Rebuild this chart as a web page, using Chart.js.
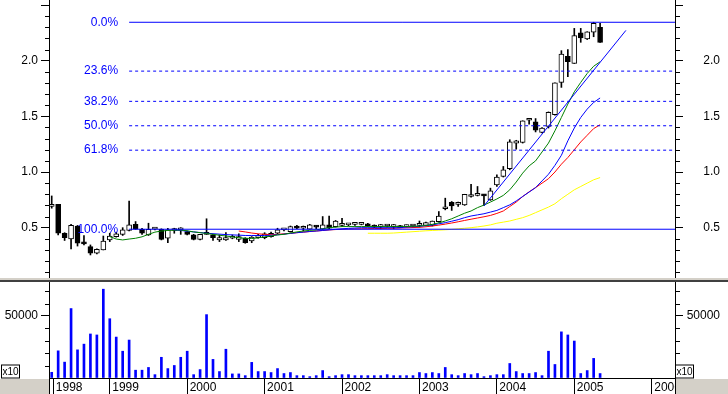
<!DOCTYPE html>
<html>
<head>
<meta charset="utf-8">
<title>Monthly price chart</title>
<script src="https://cdn.jsdelivr.net/npm/chart.js@4.4.1/dist/chart.umd.min.js"></script>
<style>
  html, body { margin: 0; padding: 0; background: #fff; }
  #wrap { position: relative; width: 728px; height: 394px; overflow: hidden; background: #fff; }
  canvas { position: absolute; left: 0; }
  #price { top: 0; }
  #vol { top: 282px; }
  .band { position: absolute; left: 0; width: 728px; }
</style>
</head>
<body>
<div id="wrap">
  <canvas id="price" width="728" height="278"></canvas>
  <div class="band" style="top:278px;height:2px;background:#d4d0c8"></div>
  <div class="band" style="top:280px;height:2px;background:#404040"></div>
  <canvas id="vol" width="728" height="112"></canvas>
</div>
<script>
// monthly bars, Apr 1998 .. May 2005
const months = [
  '1998-04','1998-05','1998-06','1998-07','1998-08','1998-09','1998-10','1998-11','1998-12',
  '1999-01','1999-02','1999-03','1999-04','1999-05','1999-06','1999-07','1999-08','1999-09','1999-10','1999-11','1999-12',
  '2000-01','2000-02','2000-03','2000-04','2000-05','2000-06','2000-07','2000-08','2000-09','2000-10','2000-11','2000-12',
  '2001-01','2001-02','2001-03','2001-04','2001-05','2001-06','2001-07','2001-08','2001-09','2001-10','2001-11','2001-12',
  '2002-01','2002-02','2002-03','2002-04','2002-05','2002-06','2002-07','2002-08','2002-09','2002-10','2002-11','2002-12',
  '2003-01','2003-02','2003-03','2003-04','2003-05','2003-06','2003-07','2003-08','2003-09','2003-10','2003-11','2003-12',
  '2004-01','2004-02','2004-03','2004-04','2004-05','2004-06','2004-07','2004-08','2004-09','2004-10','2004-11','2004-12',
  '2005-01','2005-02','2005-03','2005-04','2005-05'
];

const open = [0.69,0.71,0.45,0.40,0.515,0.36,0.33,0.27,0.30,0.39,
  0.42,0.44,0.475,0.53,0.485,0.435,0.487,0.485,0.405,0.475,
  0.48,0.465,0.435,0.395,0.44,0.435,0.39,0.39,0.405,0.395,
  0.405,0.38,0.41,0.41,0.42,0.45,0.48,0.465,0.515,0.495,
  0.487,0.51,0.487,0.525,0.51,0.52,0.525,0.53,0.53,0.535,
  0.52,0.51,0.515,0.51,0.515,0.51,0.515,0.52,0.52,0.52,
  0.555,0.67,0.727,0.71,0.705,0.78,0.79,0.80,0.75,0.885,
  0.96,1.03,1.26,1.265,1.465,1.45,1.355,1.41,1.515,1.805,
  2.04,1.975,2.25,2.195,2.255,2.30];
const high = [0.785,0.71,0.455,0.53,0.52,0.43,0.345,0.31,0.425,0.45,
  0.46,0.50,0.74,0.555,0.495,0.54,0.50,0.49,0.495,0.495,
  0.50,0.47,0.44,0.44,0.58,0.44,0.435,0.455,0.435,0.445,
  0.41,0.42,0.44,0.455,0.46,0.495,0.49,0.515,0.52,0.515,
  0.53,0.52,0.60,0.605,0.565,0.585,0.535,0.535,0.54,0.54,
  0.525,0.53,0.525,0.53,0.52,0.525,0.525,0.56,0.55,0.56,
  0.645,0.765,0.735,0.73,0.80,0.89,0.87,0.80,0.855,0.975,
  1.05,1.29,1.285,1.46,1.475,1.48,1.40,1.54,1.80,2.09,
  2.10,2.29,2.29,2.26,2.345,2.335];
const low = [0.675,0.435,0.385,0.31,0.335,0.345,0.255,0.265,0.30,0.375,
  0.415,0.43,0.47,0.485,0.44,0.43,0.48,0.39,0.365,0.45,
  0.44,0.435,0.39,0.39,0.44,0.385,0.375,0.385,0.40,0.375,
  0.36,0.365,0.405,0.40,0.415,0.445,0.47,0.46,0.49,0.47,
  0.485,0.49,0.485,0.49,0.505,0.51,0.515,0.52,0.525,0.51,
  0.50,0.49,0.505,0.49,0.50,0.505,0.505,0.505,0.515,0.515,
  0.55,0.66,0.655,0.69,0.70,0.775,0.785,0.70,0.745,0.87,
  0.955,1.02,1.205,1.26,1.43,1.36,1.35,1.395,1.51,1.76,
  1.856,1.975,2.165,2.19,2.215,2.165];
const close = [0.71,0.45,0.41,0.52,0.36,0.355,0.27,0.305,0.38,0.425,
  0.445,0.48,0.525,0.487,0.45,0.485,0.49,0.395,0.48,0.48,
  0.485,0.44,0.395,0.44,0.45,0.41,0.41,0.41,0.41,0.42,
  0.365,0.415,0.43,0.445,0.45,0.48,0.48,0.51,0.495,0.50,
  0.525,0.505,0.525,0.495,0.56,0.525,0.525,0.53,0.53,0.515,
  0.505,0.51,0.515,0.51,0.50,0.515,0.52,0.525,0.545,0.56,
  0.605,0.675,0.695,0.71,0.80,0.79,0.795,0.785,0.83,0.955,
  1.02,1.27,1.28,1.46,1.47,1.375,1.395,1.535,1.80,2.06,
  1.99,2.225,2.205,2.26,2.335,2.165];

const volume = [4600,21900,12800,56000,22700,27300,35500,34700,71600,47800,
  33000,21600,30600,6300,6300,8500,2700,16700,7600,10100,
  16700,21600,2700,6800,51100,15000,5200,23200,3300,3300,
  1900,12600,5200,5200,4400,7600,3600,4400,1900,1900,
  1100,1900,6000,1100,1900,2700,2700,1900,1900,1900,
  1900,1900,2700,1900,1900,1900,1900,4400,3600,4400,
  3600,8500,2700,1900,3600,2700,3600,1100,1900,2700,
  2700,11700,5200,3600,3600,4400,1900,21600,10900,37200,
  34700,29800,3600,6000,15800,3600];

// moving averages (null = not drawn yet)
const maGreen = [null,null,null,null,null,null,null,null,null,
  0.42,0.398,0.39,0.398,0.405,0.418,0.44,0.46,0.47,0.475,0.478,
  0.479,0.472,0.462,0.455,0.448,0.44,0.432,0.425,0.418,0.41,
  0.405,0.403,0.408,0.418,0.425,0.435,0.44,0.452,0.462,0.47,
  0.476,0.48,0.49,0.50,0.505,0.51,0.51,0.51,0.51,0.51,
  0.51,0.51,0.51,0.51,0.51,0.51,0.512,0.515,0.52,0.53,
  0.543,0.56,0.58,0.605,0.63,0.65,0.68,0.703,0.73,0.758,
  0.79,0.84,0.91,0.99,1.055,1.10,1.18,1.26,1.37,1.49,
  1.61,1.72,1.805,1.885,1.95,1.99];
const maBlue = [null,null,null,null,null,null,null,null,null,null,
  null,null,null,null,null,null,null,null,null,
  0.478,
  0.475,0.468,0.462,0.456,0.45,0.446,0.442,0.438,0.435,0.433,
  0.43,0.43,0.43,0.43,0.432,0.436,0.442,0.448,0.455,0.46,
  0.466,0.47,0.475,0.48,0.485,0.49,0.494,0.497,0.50,0.50,
  0.50,0.50,0.50,0.50,0.50,0.506,0.508,0.512,0.518,0.525,
  0.535,0.545,0.558,0.572,0.59,0.605,0.615,0.625,0.64,0.655,
  0.68,0.705,0.74,0.78,0.82,0.86,0.92,0.98,1.06,1.15,
  1.28,1.395,1.49,1.565,1.625,1.665];
const maRed = [null,null,null,null,null,null,null,null,null,null,
  null,null,null,null,null,null,null,null,null,null,
  null,null,null,null,null,null,null,null,null,
  0.47,
  0.462,0.452,0.445,0.44,0.437,0.44,0.445,0.449,0.455,0.46,
  0.465,0.47,0.475,0.48,0.483,0.486,0.488,0.489,0.49,0.491,
  0.492,0.493,0.494,0.495,0.497,0.499,0.501,0.503,0.508,0.515,
  0.523,0.532,0.542,0.553,0.565,0.576,0.587,0.598,0.61,0.628,
  0.65,0.69,0.73,0.78,0.822,0.86,0.90,0.94,1.00,1.07,
  1.13,1.20,1.27,1.33,1.39,1.425];
const maYellow = [null,null,null,null,null,null,null,null,null,null,
  null,null,null,null,null,null,null,null,null,null,
  null,null,null,null,null,null,null,null,null,null,
  null,null,null,null,null,null,null,null,null,null,
  null,null,null,null,null,null,null,null,null,
  0.45,
  0.45,0.45,0.45,0.452,0.456,0.46,0.464,0.468,0.472,0.475,
  0.478,0.481,0.485,0.49,0.495,0.50,0.507,0.515,0.525,0.54,
  0.55,0.56,0.575,0.59,0.61,0.635,0.66,0.685,0.715,0.76,
  0.80,0.84,0.87,0.90,0.93,0.95];

// trend line from the Nov 2003 low, carried past the last bar
const trendMonths = ['2003-11', '2005-09'];
const trendValues = [0.695, 2.272];

// Fibonacci retracement
const fibHigh = 2.345, fibLow = 0.486, fibFrom = '1999-04';
const fibLevels = [0, 23.6, 38.2, 50, 61.8, 100];

const priceTicks = [0.5, 1.0, 1.5, 2.0, 2.5];
const priceTickLabels = ['0.5', '1.0', '1.5', '2.0', ''];
const volTicks = [0, 50000];
const volTickLabels = ['', '50000'];
const yearTicks = [3.25, 12, 24, 36, 48, 60, 72, 84, 96]; // months since Jan 1998
const yearLabels = ['1998','1999','2000','2001','2002','2003','2004','2005','2006'];

const xMin = 2.58, xMax = 99.61;
const priceMin = 0.048, priceMax = 2.545;
const volMax = 77400;

const FONT = '"Liberation Sans", Arial, sans-serif';
Chart.defaults.font.family = FONT;
Chart.defaults.font.size = 12;
Chart.defaults.color = '#000';
Chart.defaults.animation = false;
Chart.defaults.plugins.legend.display = false;
Chart.defaults.plugins.tooltip.enabled = false;

const mIdx = s => (parseInt(s.slice(0, 4), 10) - 1998) * 12 + parseInt(s.slice(5, 7), 10) - 1;
const xs = months.map(mIdx);
const fibValue = p => fibHigh - p / 100 * (fibHigh - fibLow);

function lineDs(vals, color) {
  return {
    type: 'line', data: xs.map((x, i) => ({x, y: vals[i]})),
    borderColor: color, borderWidth: 1, pointRadius: 0, tension: 0, spanGaps: false
  };
}

function yAxis(pos, width, min, max, ticks, labels) {
  return {
    position: pos, min, max,
    afterBuildTicks: s => { s.ticks = ticks.map(v => ({value: v})); },
    afterFit: s => { s.width = width; s.paddingTop = 0; s.paddingBottom = 0; },
    ticks: { autoSkip: false, padding: 3, crossAlign: pos === 'right' ? 'far' : 'near',
             callback: (v, i) => labels[i] },
    grid: { drawOnChartArea: false, tickLength: 8, color: '#000',
            tickColor: c => (c.tick && c.tick.value === 0) ? 'rgba(0,0,0,0)' : '#000' },
    border: { color: '#000', width: 1 }
  };
}

const minorTicks = {
  id: 'minorTicks',
  afterDraw(chart, args, opts) {
    const {ctx, chartArea: a} = chart;
    const sc = chart.scales.y;
    ctx.save();
    ctx.strokeStyle = '#000';
    ctx.lineWidth = 1;
    ctx.beginPath();
    for (let i = 1; i * opts.step < sc.max; i++) {
      if (i % opts.every === 0) continue;
      const py = Math.round(sc.getPixelForValue(i * opts.step)) + 0.5;
      if (py < a.top || py > a.bottom) continue;
      ctx.moveTo(a.left - 4, py); ctx.lineTo(a.left, py);
      ctx.moveTo(a.right, py); ctx.lineTo(a.right + 5, py);
    }
    ctx.stroke();
    ctx.restore();
  }
};

const fibLabels = {
  id: 'fibLabels',
  afterDatasetsDraw(chart) {
    const {ctx} = chart;
    const {x, y} = chart.scales;
    const x0 = x.getPixelForValue(mIdx(fibFrom)) - 11;
    ctx.save();
    ctx.font = '12px ' + FONT;
    ctx.fillStyle = '#0000ff';
    ctx.textAlign = 'right';
    ctx.textBaseline = 'middle';
    fibLevels.forEach(p => ctx.fillText(p.toFixed(1) + '%', x0, y.getPixelForValue(fibValue(p))));
    ctx.restore();
  }
};

const volFrame = {
  id: 'volFrame',
  afterDraw(chart) {
    const {ctx, chartArea: a, width, height} = chart;
    ctx.save();
    ctx.fillStyle = '#d4d0c8';
    ctx.fillRect(0, a.bottom + 1, a.left, height - a.bottom - 1);
    ctx.fillRect(a.right + 1, a.bottom + 1, width - a.right - 1, height - a.bottom - 1);
    ctx.strokeStyle = '#000';
    ctx.lineWidth = 1;
    ctx.beginPath();
    ctx.moveTo(a.left + 0.5, a.bottom); ctx.lineTo(a.left + 0.5, height);
    ctx.moveTo(a.right + 0.5, a.bottom); ctx.lineTo(a.right + 0.5, height);
    ctx.stroke();
    ctx.font = '10px ' + FONT;
    ctx.textAlign = 'center';
    ctx.textBaseline = 'middle';
    [1.5, a.right + 0.5].forEach(bx => {
      ctx.fillStyle = '#fff';
      ctx.fillRect(bx, a.bottom - 13, 18, 13);
      ctx.strokeRect(bx, a.bottom - 13, 18, 13);
      ctx.fillStyle = '#000';
      ctx.fillText('x10', bx + 9, a.bottom - 6);
    });
    ctx.restore();
  }
};

const fibSets = fibLevels.map(p => ({
  type: 'line',
  data: [{x: mIdx(fibFrom), y: fibValue(p)}, {x: xMax, y: fibValue(p)}],
  borderColor: '#0000ff', borderWidth: 1, pointRadius: 0,
  borderDash: (p === 0 || p === 100) ? [] : [3, 3]
}));

new Chart(document.getElementById('price'), {
  type: 'bar',
  data: {
    datasets: [
      ...fibSets,
      {
        type: 'line', data: trendMonths.map((m, i) => ({x: mIdx(m), y: trendValues[i]})),
        borderColor: '#0000ff', borderWidth: 1, pointRadius: 0
      },
      lineDs(maGreen, '#008000'),
      lineDs(maBlue, '#0000ff'),
      lineDs(maRed, '#ff0000'),
      lineDs(maYellow, '#ffff00'),
      {
        data: xs.map((x, i) => ({x, y: [open[i], close[i]]})),
        backgroundColor: close.map((c, i) => c >= open[i] ? '#ffffff' : '#000000'),
        borderColor: '#000', borderWidth: 1, borderSkipped: false,
        barThickness: 5, minBarLength: 2, grouped: false
      },
      {
        data: xs.map((x, i) => ({x, y: [low[i], high[i]]})),
        backgroundColor: '#000', borderWidth: 0, barThickness: 1, grouped: false
      }
    ]
  },
  options: {
    responsive: false,
    layout: { padding: { left: 0, right: 8, top: 0, bottom: 0 } },
    scales: {
      x: { type: 'linear', min: xMin, max: xMax, offset: false, display: false, grid: { offset: false } },
      y: yAxis('left', 49, priceMin, priceMax, priceTicks, priceTickLabels),
      y2: yAxis('right', 45, priceMin, priceMax, priceTicks, priceTickLabels)
    },
    plugins: { minorTicks: { step: 0.1, every: 5 } }
  },
  plugins: [minorTicks, fibLabels]
});

new Chart(document.getElementById('vol'), {
  type: 'bar',
  data: {
    datasets: [{
      data: xs.map((x, i) => ({x, y: volume[i]})),
      backgroundColor: '#0000ff', borderWidth: 0, barThickness: 2, grouped: false
    }]
  },
  options: {
    responsive: false,
    layout: { padding: { left: 0, right: 8, top: 0, bottom: 0 } },
    scales: {
      x: {
        type: 'linear', min: xMin, max: xMax, offset: false, position: 'bottom',
        afterFit: s => { s.height = 16; s.paddingLeft = 0; s.paddingRight = 0; },
        afterBuildTicks: s => { s.ticks = yearTicks.map(v => ({value: v})); },
        ticks: { autoSkip: false, maxRotation: 0, minRotation: 0, align: 'start', labelOffset: 2.5,
                 padding: -14, callback: (v, i) => yearLabels[i] },
        grid: { drawOnChartArea: false, offset: false, tickLength: 16, color: '#000', tickColor: '#000' },
        border: { color: '#000', width: 1 }
      },
      y: yAxis('left', 49, 0, volMax, volTicks, volTickLabels),
      y2: yAxis('right', 45, 0, volMax, volTicks, volTickLabels)
    },
    plugins: { minorTicks: { step: 10000, every: 5 } }
  },
  plugins: [minorTicks, volFrame]
});
</script>
</body>
</html>
